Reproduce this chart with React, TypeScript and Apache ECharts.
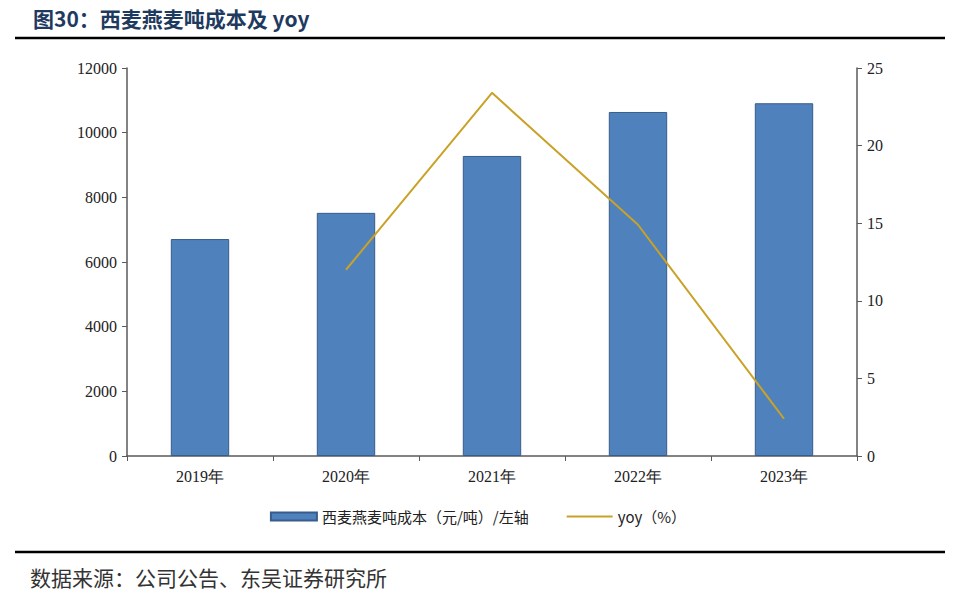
import React, { useEffect, useRef } from "react";
import * as echarts from "echarts";

const categories = ["2019年", "2020年", "2021年", "2022年", "2023年"];
const costValues = [6710, 7520, 9280, 10640, 10910];
const yoyValues: (number | null)[] = [null, 12.0, 23.4, 14.9, 2.4];
const barName = "西麦燕麦吨成本（元/吨）/左轴";
const lineName = "yoy（%）";
const titleText = "图30：西麦燕麦吨成本及 yoy";
const sourceText = "数据来源：公司公告、东吴证券研究所";

export default function App() {
  const ref = useRef<HTMLDivElement>(null);
  useEffect(() => {
    if (!ref.current) return;
    const chart = echarts.init(ref.current, undefined, { renderer: "svg" });
    const serif = "Liberation Serif";
    const cjk = "Noto Sans CJK SC";
    chart.setOption({
      animation: false,
      backgroundColor: "#ffffff",
      grid: { left: 127, right: 99, top: 68, bottom: 137 },
      legend: {
        bottom: 64,
        left: "center",
        itemGap: 38,
        itemWidth: 46,
        itemHeight: 8,
        textStyle: { fontFamily: cjk, fontSize: 15, color: "#222" },
        data: [
          { name: barName, icon: "rect" },
          { name: lineName, icon: "path://M0,0H46V2H0Z" },
        ],
      },
      graphic: [
        {
          type: "text",
          left: 33,
          top: 6,
          style: {
            text: titleText,
            fontFamily: cjk,
            fontWeight: "bold",
            fontSize: 21,
            lineHeight: 24,
            fill: "#1f3a5f",
          },
        },
        {
          type: "line",
          shape: { x1: 15, y1: 38, x2: 945, y2: 38 },
          style: { stroke: "#000", lineWidth: 2.5 },
        },
        {
          type: "line",
          shape: { x1: 15, y1: 552, x2: 945, y2: 552 },
          style: { stroke: "#000", lineWidth: 2.5 },
        },
        {
          type: "text",
          left: 30,
          top: 565,
          style: {
            text: sourceText,
            fontFamily: cjk,
            fontSize: 21,
            lineHeight: 24,
            fill: "#333",
          },
        },
      ],
      xAxis: {
        type: "category",
        data: categories,
        axisLine: { lineStyle: { color: "#5a5a5a", width: 1.5 } },
        axisTick: { show: true, length: 5, lineStyle: { color: "#5a5a5a" } },
        axisLabel: { fontFamily: serif, fontSize: 16, color: "#222", margin: 12 },
      },
      yAxis: [
        {
          type: "value",
          min: 0,
          max: 12000,
          interval: 2000,
          splitLine: { show: false },
          axisLine: { show: true, lineStyle: { color: "#5a5a5a", width: 1.5 } },
          axisTick: { show: true, length: 5, lineStyle: { color: "#5a5a5a" } },
          axisLabel: {
            fontFamily: serif,
            fontSize: 16,
            color: "#222",
            margin: 10,
            formatter: (v: number) => String(v),
          },
        },
        {
          type: "value",
          min: 0,
          max: 25,
          interval: 5,
          position: "right",
          splitLine: { show: false },
          axisLine: { show: true, lineStyle: { color: "#5a5a5a", width: 1.5 } },
          axisTick: { show: true, length: 5, lineStyle: { color: "#5a5a5a" } },
          axisLabel: { fontFamily: serif, fontSize: 16, color: "#222", margin: 10 },
        },
      ],
      series: [
        {
          name: barName,
          type: "bar",
          data: costValues,
          barWidth: "40%",
          itemStyle: { color: "#4f81bd", borderColor: "#385d8a", borderWidth: 1 },
        },
        {
          name: lineName,
          type: "line",
          yAxisIndex: 1,
          data: yoyValues,
          symbol: "none",
          lineStyle: { color: "#c9a227", width: 2 },
          itemStyle: { color: "#c9a227" },
        },
      ],
    });
    return () => chart.dispose();
  }, []);
  return <div ref={ref} style={{ width: 956, height: 593, position: "absolute", left: 0, top: 0 }} />;
}
